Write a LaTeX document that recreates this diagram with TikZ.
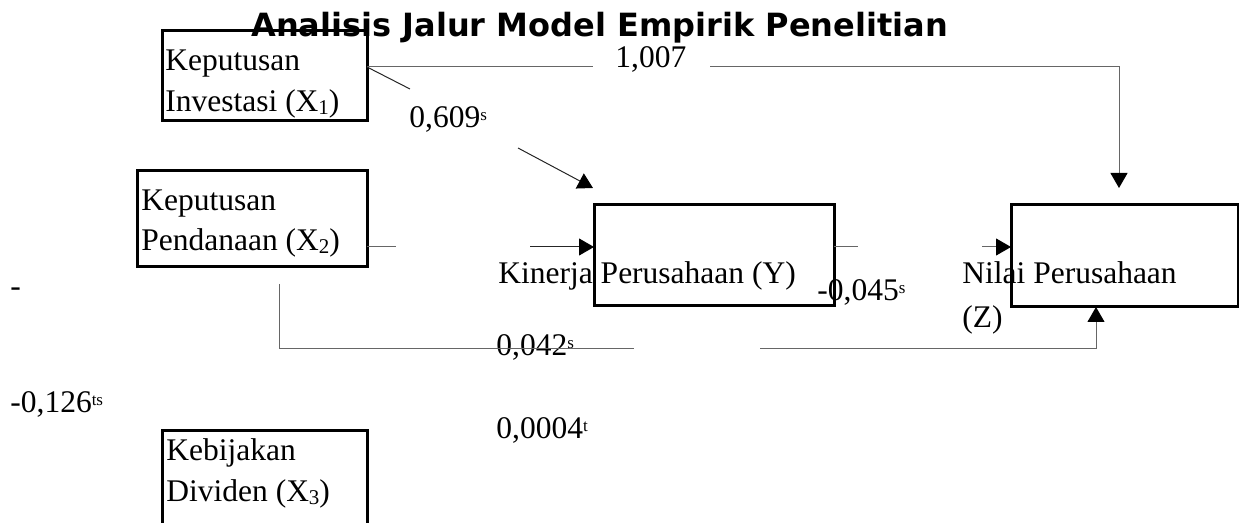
\documentclass[tikz,border=0pt]{standalone}
\usepackage{fontspec}
\setmainfont{Liberation Serif}
\newfontfamily\titlefont{DejaVu Sans}
\usetikzlibrary{arrows.meta}
\newcommand{\sig}[1]{\raisebox{0.5ex}{\fontsize{8.5}{9}\selectfont #1}}
\newcommand{\idx}[1]{\raisebox{-0.2ex}{\fontsize{10.5}{11}\selectfont #1}}
\tikzset{
  box/.style={draw, line width=1.5pt, anchor=north west, inner sep=0pt, outer sep=0pt},
  txt/.style={anchor=base west, inner sep=0pt, font=\fontsize{15.75}{19}\selectfont},
  link/.style={draw=black!60, line width=0.5pt},
  tip/.style={-{Triangle[length=7.5pt,width=8.5pt,color=black]}}
}

\begin{document}
\begin{tikzpicture}[x=0.5pt,y=-0.5pt]
    \clip (0,0) rectangle (1239,523);
    \node[box, minimum width=102.5pt, minimum height=45pt] (x1) at (162,31) {};
    \node[box, minimum width=115pt, minimum height=48pt] (x2) at (137,171) {};
    \node[box, minimum width=102.5pt, minimum height=60pt] (x3) at (162,431) {};
    \node[box, minimum width=120pt, minimum height=50.5pt] (y) at (594,205) {};
    \node[box, minimum width=113.5pt, minimum height=51pt] (z) at (1011,205) {};
    \node[anchor=base west, inner sep=0pt, font=\titlefont\bfseries\fontsize{16}{19}\selectfont] (title) at (251,37) {Analisis Jalur Model Empirik Penelitian};

    \node[txt] (x1a) at (165,71) {Keputusan};
    \node[txt] (x1b) at (165,112) {Investasi (X\idx{1})};
    \node[txt] (x2a) at (141,211) {Keputusan};
    \node[txt] (x2b) at (141,251) {Pendanaan (X\idx{2})};
    \node[txt] (x3a) at (166,461) {Kebijakan};
    \node[txt] (x3b) at (166,502) {Dividen (X\idx{3})};
    \node[txt] (ya) at (498,284) {Kinerja Perusahaan (Y)};
    \node[txt] (za) at (962,284) {Nilai Perusahaan};
    \node[txt] (zb) at (962,328) {(Z)};

    \node[txt] (p1) at (615,68) {1,007};
    \node[txt] (p2) at (409,128) {0,609\sig{s}};
    \node[txt] (p3) at (496,356) {0,042\sig{s}};
    \node[txt] (p4) at (496,439) {0,0004\sig{t}};
    \node[txt] (p5) at (817,301) {-0,045\sig{s}};
    \node[txt] (p6) at (10,297) {-};
    \node[txt] (p7) at (10,413) {-0,126\sig{ts}};

    \coordinate (a1) at (593,67);
    \coordinate (b1) at (710,67);
    \coordinate (e1) at (1119,188);
    \draw[link] ([yshift=4.5pt]x1.east) -- (a1);
    \draw[link, tip] (b1) -| (e1);

    \coordinate (a2) at (410,89);
    \coordinate (b2) at (518,148);
    \coordinate (e2) at (593,188);
    \draw[link, draw=black!85] ([yshift=4.5pt]x1.east) -- (a2);
    \draw[link, draw=black!85, tip] (b2) -- (e2);

    \coordinate (a3) at (396,247);
    \coordinate (b3) at (530,247);
    \draw[link] ([yshift=-14pt]x2.east) -- (a3);
    \draw[link, draw=black!85, tip] (b3) -- ([yshift=4.25pt]y.west);

    \coordinate (a4) at (858,247);
    \coordinate (b4) at (982,247);
    \draw[link] ([yshift=4.25pt]y.east) -- (a4);
    \draw[link, tip] (b4) -- ([yshift=4.5pt]z.west);

    \coordinate (s5) at (279,284);
    \coordinate (a5) at (634,349);
    \coordinate (b5) at (760,349);
    \coordinate (e5) at (1096,307);
    \draw[link] (s5) |- (a5);
    \draw[link, tip] (b5) -| (e5);
\end{tikzpicture}
\end{document}
